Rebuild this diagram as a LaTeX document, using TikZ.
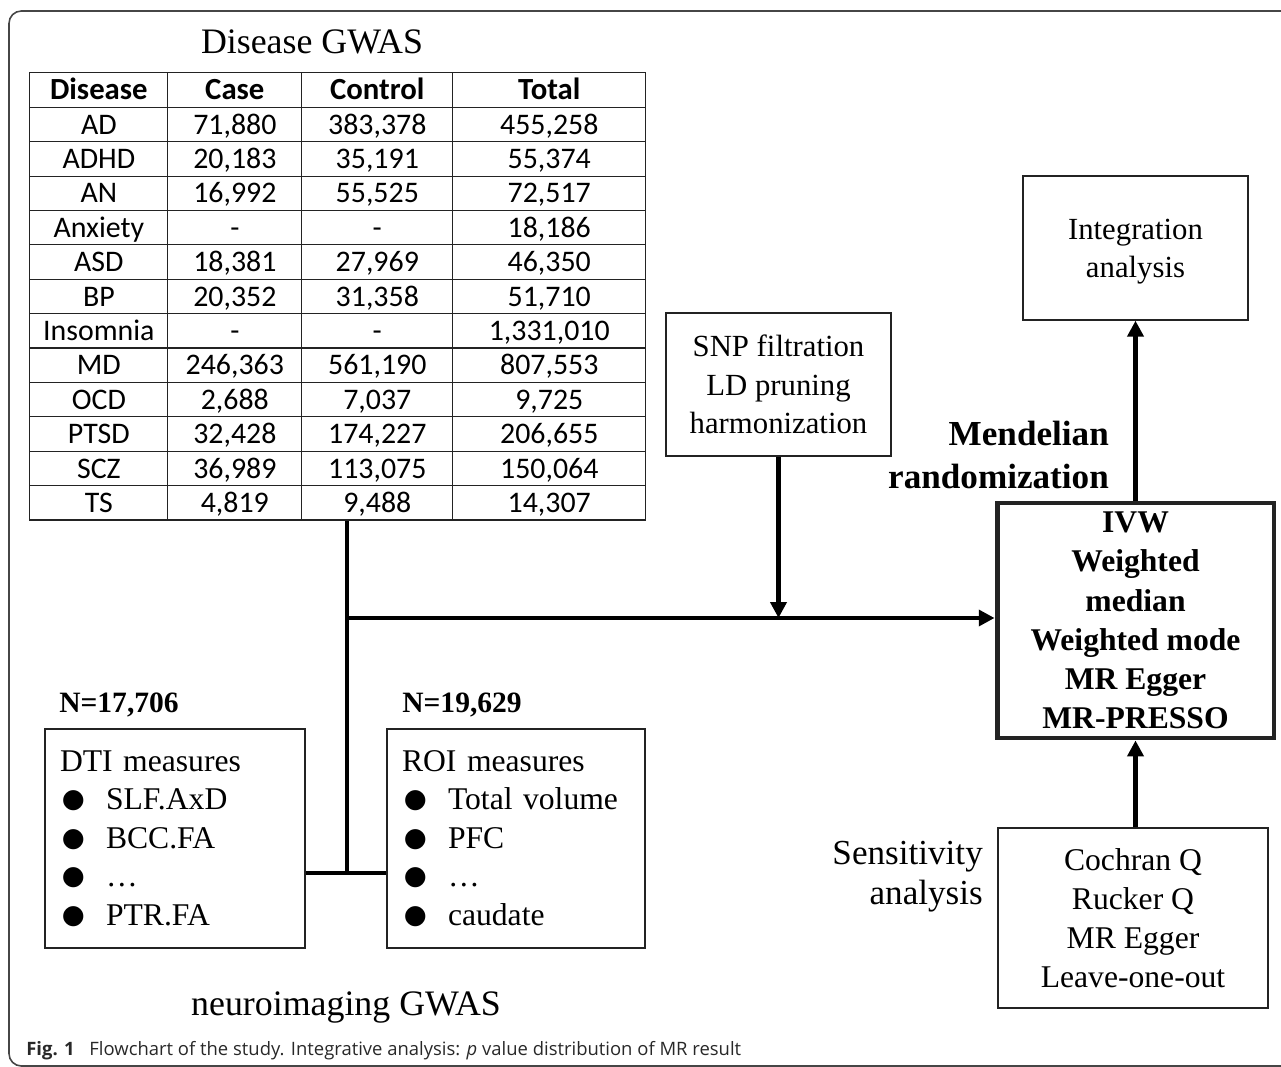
\documentclass[tikz,border=0pt]{standalone}
\usepackage{fontspec}
\setmainfont{Liberation Serif}
\newfontfamily\tablefont{Carlito}
\newfontfamily\capfont{Open Sans}
\newfontfamily\symfont{DejaVu Sans}
\usetikzlibrary{
    arrows.meta,
    matrix,
    positioning
}
\definecolor{framegray}{RGB}{70,70,70}
\definecolor{linegray}{RGB}{35,35,35}
\definecolor{captext}{RGB}{40,40,40}
\newcommand{\bul}{\makebox[0.92cm][l]{\hspace{1pt}\raisebox{1.2pt}{\symfont\fontsize{15}{15}\selectfont ●}}}

\begin{document}
\begin{tikzpicture}[x=0.02cm, y=-0.02cm,
    cell/.style={draw=linegray, line width=0.6pt, minimum height=0.688cm, inner sep=0pt,
        text height=12pt, text depth=1pt, font=\tablefont\fontsize{17}{20}\selectfont},
    box/.style={draw=linegray, line width=0.8pt, align=center, inner sep=0pt,
        font=\fontsize{17.5}{21.8}\selectfont},
    mrbox/.style={box, line width=2.8pt, font=\bfseries\fontsize{18}{22.3}\selectfont},
    listbox/.style={draw=linegray, line width=0.8pt, align=left, inner xsep=0.3cm, inner ysep=0pt,
        minimum height=4.38cm, font=\fontsize{18}{21.9}\selectfont},
    heading/.style={font=\fontsize{20.4}{25}\selectfont},
    boldlabel/.style={font=\bfseries\fontsize{20}{25}\selectfont},
    nlabel/.style={font=\bfseries\fontsize{16.8}{18}\selectfont, inner sep=0pt},
    link/.style={draw=black, line width=2.8pt},
    flow/.style={link, -{Triangle[length=9pt, width=9pt]}}
]
    \useasboundingbox (0,0) rectangle (1281,1067);
    \clip (0,0) rectangle (1281,1067);

    % Frame
    \draw[framegray, line width=0.9pt, rounded corners=7pt] (9,11) rectangle (1330,1066);

    % Disease GWAS table
    \node[heading] (gwastitle) at (312,42) {Disease GWAS};
    \matrix (gwas) [matrix of nodes, anchor=north west, inner sep=0pt,
        row sep=-0.6pt, column sep=-0.6pt, nodes={cell},
        column 1/.style={nodes={minimum width=2.76cm}},
        column 2/.style={nodes={minimum width=2.68cm}},
        column 3/.style={nodes={minimum width=3.02cm}},
        column 4/.style={nodes={minimum width=3.86cm}},
        row 1/.style={nodes={font=\tablefont\bfseries\fontsize{17.5}{20}\selectfont}}]
        at (29,72) {
        Disease  & Case    & Control & Total     \\
        AD       & 71,880  & 383,378 & 455,258   \\
        ADHD     & 20,183  & 35,191  & 55,374    \\
        AN       & 16,992  & 55,525  & 72,517    \\
        Anxiety  & -       & -       & 18,186    \\
        ASD      & 18,381  & 27,969  & 46,350    \\
        BP       & 20,352  & 31,358  & 51,710    \\
        Insomnia & -       & -       & 1,331,010 \\
        MD       & 246,363 & 561,190 & 807,553   \\
        OCD      & 2,688   & 7,037   & 9,725     \\
        PTSD     & 32,428  & 174,227 & 206,655   \\
        SCZ      & 36,989  & 113,075 & 150,064   \\
        TS       & 4,819   & 9,488   & 14,307    \\
    };

    % Neuroimaging GWAS
    \node[nlabel, anchor=base west] (ndti) at (59,712) {N=17,706};
    \node[nlabel, anchor=base west] (nroi) at (402,712) {N=19,629};
    \node[listbox, text width=4.6cm] (dti) at (175,838.5)
        {DTI measures\\ \bul SLF.AxD\\ \bul BCC.FA\\ \bul \dots\\ \bul PTR.FA};
    \node[listbox, text width=4.56cm] (roi) at (516,838.5)
        {ROI measures\\ \bul Total volume\\ \bul PFC\\ \bul \dots\\ \bul caudate};
    \node[heading, anchor=base] (neurotitle) at (346,1015) {neuroimaging GWAS};

    % MR steps
    \node[box, minimum width=4.5cm, minimum height=2.86cm] (snp) at (778.5,384.5)
        {SNP filtration\\LD pruning\\harmonization};
    \node[box, text depth=0pt, minimum width=4.5cm, minimum height=2.88cm] (integ) at (1135.5,248)
        {Integration\\analysis};
    \node[mrbox, minimum width=5.54cm, minimum height=4.7cm] (mr) at (1135.5,620.5)
        {IVW\\Weighted\\median\\Weighted mode\\MR Egger\\MR-PRESSO};
    \node[boldlabel, align=right, anchor=east] (mrtitle) at (1115,455)
        {Mendelian\\randomization};
    \node[box, font=\fontsize{18}{22.2}\selectfont, minimum width=5.4cm, minimum height=3.6cm]
        (sens) at (1133,918) {Cochran Q\\Rucker Q\\MR Egger\\Leave-one-out};
    \node[heading, align=right, anchor=east, font=\fontsize{20}{22.7}\selectfont]
        (senstitle) at (989,877) {Sensitivity\\analysis};

    % Connectors
    \coordinate (split) at (347,873);
    \coordinate (joint) at (347,618);
    \draw[link] (split |- gwas.south) -- (split);
    \draw[link] (dti.east |- split) -- (roi.west |- split);
    \draw[flow] (joint) -- (joint -| mr.west);
    \draw[flow] (snp.south) -- (snp.south |- joint);
    \draw[flow] (mr.north) -- (integ.south);
    \draw[flow] (sens.north -| mr.south) -- (mr.south);

    % Caption
    \node[anchor=base west, inner sep=0pt, text=captext, font=\capfont\fontsize{10.5}{12}\selectfont] (caption)
        at (26,1055) {\textbf{Fig. 1}\hspace{0.8em}Flowchart of the study. Integrative analysis: \textit{p} value distribution of MR result};
\end{tikzpicture}
\end{document}
